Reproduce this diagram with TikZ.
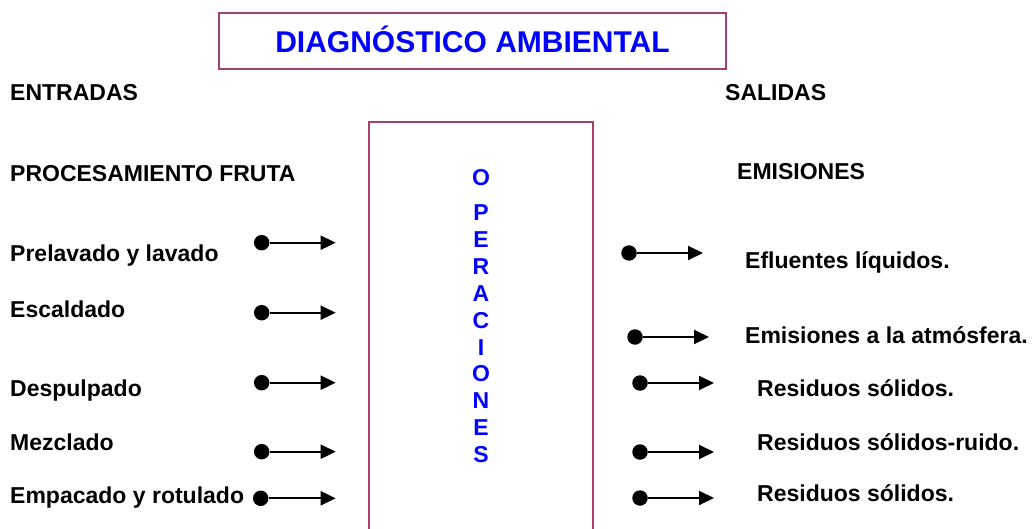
\documentclass[tikz,border=0pt]{standalone}
\usepackage{fontspec}
\setmainfont{Liberation Sans}
\usetikzlibrary{arrows.meta}
\definecolor{boxc}{RGB}{166,64,110}
\definecolor{ttlblue}{RGB}{0,0,255}
\begin{document}
\begin{tikzpicture}[x=1pt,y=-1pt,
  lbl/.style={anchor=base west,inner sep=0pt,font=\fontsize{23}{27}\selectfont\bfseries},
  ttl/.style={draw=boxc,line width=2pt,minimum width=507pt,minimum height=56pt,inner sep=0pt,
    text height=22pt,text depth=0pt,text=ttlblue,font=\fontsize{30}{34}\selectfont\bfseries},
  opl/.style={anchor=base,inner sep=0pt,text=ttlblue,font=\fontsize{23}{27}\selectfont\bfseries},
  dot/.style={circle,fill=black,minimum size=15.5pt,inner sep=0pt},
  flow/.style={line width=1.9pt,-{Triangle[length=15pt,width=14pt]}}]
\useasboundingbox (0,0) rectangle (1033,529);

% title
\node[ttl] (title) at (472.5,41.3) {DIAGNÓSTICO AMBIENTAL};

% operations box
\draw[draw=boxc,line width=2pt] (369,530) -- (369,122) -- (593,122) -- (593,530);
\foreach \l/\y [count=\i] in {O/185.5,P/221,E/247.8,R/274.6,A/301.4,C/328.2,I/355,O/381.8,N/408.6,E/435.4,S/462.2}
  \node[opl] (op\i) at (481,\y) {\l};

% headings
\node[lbl] (entradas) at (10,100.7) {ENTRADAS};
\node[lbl] (salidas) at (725,100.3) {SALIDAS};
\node[lbl] (proc) at (10,181.7) {PROCESAMIENTO FRUTA};
\node[lbl] (emis) at (737,180) {EMISIONES};

% left labels
\node[lbl] (t1) at (10,261.7) {Prelavado y lavado};
\node[lbl] (t2) at (10,317.3) {Escaldado};
\node[lbl] (t3) at (10,396) {Despulpado};
\node[lbl] (t4) at (10,450) {Mezclado};
\node[lbl] (t5) at (10,503.3) {Empacado y rotulado};

% right labels
\node[lbl] (s1) at (745,268.7) {Efluentes líquidos.};
\node[lbl] (s2) at (745,343.3) {Emisiones a la atmósfera.};
\node[lbl] (s3) at (757,396) {Residuos sólidos.};
\node[lbl] (s4) at (757,450.7) {Residuos sólidos-ruido.};
\node[lbl] (s5) at (757,501.7) {Residuos sólidos.};

% left arrows
\foreach \i/\x/\y in {1/261.7/242.7,2/261.7/312.7,3/261.7/382.7,4/261.7/451.7,5/260.7/498.3}{
  \node[dot] (ld\i) at (\x,\y) {};
  \coordinate (le\i) at (335.7,\y);
  \draw[flow] (ld\i) -- (le\i);
}

% right arrows
\foreach \i/\x/\t/\y in {1/629/703/253,2/635/709/337,3/640/714/383,4/640/714/452,5/640/714/498}{
  \node[dot] (rd\i) at (\x,\y) {};
  \coordinate (re\i) at (\t,\y);
  \draw[flow] (rd\i) -- (re\i);
}
\end{tikzpicture}
\end{document}
